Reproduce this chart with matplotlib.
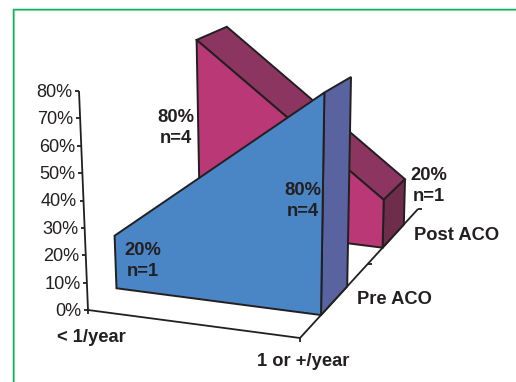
import matplotlib
matplotlib.use('Agg')
import matplotlib.pyplot as plt
from matplotlib.patches import Polygon

plt.rcParams['font.family'] = ['Liberation Sans', 'DejaVu Sans']

categories = ['< 1/year', '1 or +/year']
series_names = ['Pre ACO', 'Post ACO']
pre_aco = [20, 80]
post_aco = [80, 20]
pre_n = [1, 4]
post_n = [4, 1]
y_ticks = [0, 10, 20, 30, 40, 50, 60, 70, 80]

# depth slots of the two ribbons along the third axis
pre_depth = (0.178, 0.40)
post_depth = (0.70, 0.88)
depth_ticks = [0.575, 1]

TEXT = '#231f20'
W, H = 516, 382

# screen position of the 3d box corners, keyed by (x, value, depth)
corners = {
    (0, 0, 0): (88, 310), (0, 1, 0): (79, 91),
    (0, 0, 1): (248, 188), (0, 1, 1): (247, 18),
    (1, 0, 0): (300, 338), (1, 1, 0): (303, 105),
    (1, 0, 1): (418, 209), (1, 1, 1): (423, 35),
}


def project(x, val, d):
    v = val / 80.0
    px, py = 0.0, 0.0
    for (i, j, k), (cx, cy) in corners.items():
        w = (x if i else 1 - x) * (v if j else 1 - v) * (d if k else 1 - d)
        px += w * cx
        py += w * cy
    return px, py


fig = plt.figure(figsize=(W / 100, H / 100), dpi=100)
ax = fig.add_axes([0, 0, 1, 1])
ax.set_xlim(0, W)
ax.set_ylim(H, 0)
ax.axis('off')

# green frame, open on the right and at the bottom
ax.plot([13.5, 13.5, W], [H, 9.5, 9.5], color='#8fdcb0', lw=1.6, zorder=1)
ax.plot([12.8, 12.8, W], [H, 8.8, 8.8], color='#14ad62', lw=1.0, zorder=1)


def face(pts, color, z):
    ax.add_patch(Polygon([project(*p) for p in pts], closed=True, facecolor=color,
                         edgecolor=TEXT, lw=1.4, joinstyle='miter', zorder=z))


def line(a, b, z=2):
    ax.plot([a[0], b[0]], [a[1], b[1]], color=TEXT, lw=1.3, solid_capstyle='butt', zorder=z)


# axes
line(project(0, 0, 0), project(0, 80, 0))
line(project(0, 0, 0), project(1, 0, 0))
line(project(1, 0, 0), project(1, 0, 1))
for t in y_ticks:
    px, py = project(0, t, 0)
    line((px - 4, py), (px, py))
    ax.text(px - 6.5, py + 1.5, '%d%%' % t, ha='right', va='center', fontsize=13.1, color=TEXT)
for i in range(2):
    px, py = project(i, 0, 0)
    line((px, py), (px, py + 4))
for d in depth_ticks:
    px, py = project(1, 0, d)
    line((px, py), (px + 4, py))

# back ribbon
d0, d1 = post_depth
a, b = post_aco
face([(0, a, d0), (0, a, d1), (1, b, d1), (1, b, d0)], '#8c3560', 3)
face([(1, 0, d0), (1, b, d0), (1, b, d1), (1, 0, d1)], '#6e2d4b', 3)
face([(0, 0, d0), (0, a, d0), (1, b, d0), (1, 0, d0)], '#b93875', 4)

# front ribbon
d0, d1 = pre_depth
a, b = pre_aco
face([(1, 0, d0), (1, b, d0), (1, b, d1), (1, 0, d1)], '#59639f', 5)
face([(0, 0, d0), (0, a, d0), (1, b, d0), (1, 0, d0)], '#4a86c5', 6)

# value labels
bold = dict(ha='center', va='center', fontsize=13.2, fontweight='bold', color=TEXT,
            linespacing=1.25, zorder=8)
ax.text(176, 128, '%d%%\nn=%d' % (post_aco[0], post_n[0]), **bold)
ax.text(429, 186, '%d%%\nn=%d' % (post_aco[1], post_n[1]), **bold)
ax.text(143, 261, '%d%%\nn=%d' % (pre_aco[0], pre_n[0]), **bold)
ax.text(303, 201, '%d%%\nn=%d' % (pre_aco[1], pre_n[1]), **bold)

# category and series names
names = dict(ha='center', va='center', fontsize=13.2, fontweight='bold', color=TEXT)
ax.text(91, 338, categories[0], **names)
ax.text(303, 361, categories[1], **names)
ax.text(394, 300, series_names[0], **names)
ax.text(457, 236, series_names[1], **names)

fig.savefig('out.png', dpi=100)
